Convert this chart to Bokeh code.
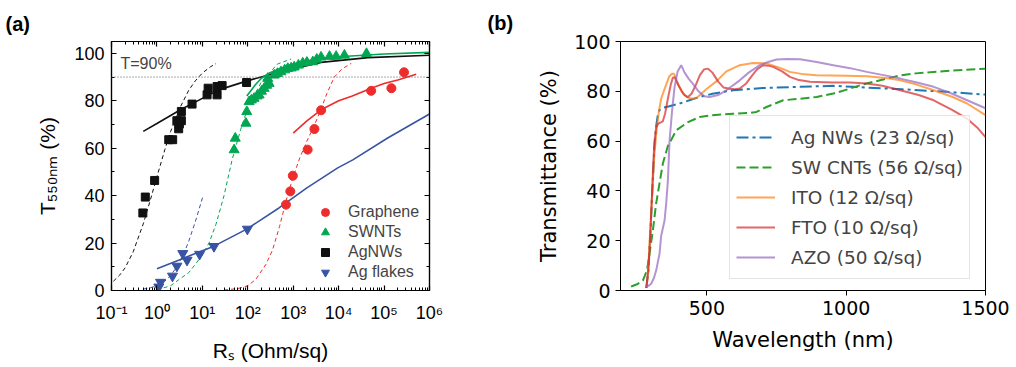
from bokeh.plotting import figure
from bokeh.models import (Range1d, LinearAxis, LogAxis, FixedTicker, Label,
                          Legend, LegendItem, CustomJSTickFormatter, Span, Title)
from bokeh.layouts import row
from bokeh.embed import file_html
from bokeh.resources import INLINE

# ---------------- Panel (a) data ----------------
a_exps = [-1, 0, 1, 2, 3, 4, 5, 6]
a_xlabels = ["10⁻¹", "10⁰", "10¹", "10²", "10³", "10⁴", "10⁵", "10⁶"]
a_yticks = [0, 20, 40, 60, 80, 100]
a_yminor = [10, 30, 50, 70, 90]
threshold = 90

graphene_x = [692, 863, 980, 2080, 2930, 4110, 52000, 145000, 275000]
graphene_y = [36.2, 41.8, 48.4, 59.4, 68.1, 76.0, 84.2, 85.3, 92.0]

swnt_x = [50, 53, 91, 95, 107, 120, 138, 160, 178, 200, 229, 260, 295, 275, 383, 450, 537,
          650, 760, 900, 1050, 1300, 1620, 2000, 2700, 3300, 4100, 6300, 8800, 13400, 41000]
swnt_y = [59.3, 64.2, 70.5, 75.4, 79.6, 80.3, 81.0, 82.0, 82.4, 84.0, 85.2, 86.5, 87.3, 89.4, 90.8,
          91.5, 92.2, 93.0, 93.6, 93.8, 94.2, 95.0, 95.9, 96.2, 96.4, 97.5, 98.4, 98.7, 98.7, 99.2, 99.9]

agnw_x = [0.49, 0.555, 0.89, 1.82, 2.22, 3.01, 3.12, 2.75, 3.45, 3.45, 5.93, 12.7, 13.4, 21.1, 21.1, 27.2, 94]
agnw_y = [32.7, 39.4, 46.4, 63.6, 63.6, 68.2, 70.2, 71.6, 71.6, 75.5, 78.6, 82.5, 85.3, 82.5, 86.0, 86.4, 87.7]

agfl_x = [1.1, 1.2, 2.2, 2.75, 3.7, 4.6, 8.7, 18, 98]
agfl_y = [1.5, 3.5, 6.1, 10.3, 15.6, 12.8, 15.3, 18.6, 25.9]

# fitted curves
agnw_fit_x = [0.5, 1, 3.3, 10, 23, 97, 324, 1000, 4100, 44000, 1e6]
agnw_fit_y = [67.1, 70.4, 76.2, 81.0, 84.6, 88.4, 91.2, 93.5, 96.2, 98.2, 99.2]
agnw_bulk_x = [0.11, 0.15, 0.2, 0.3, 0.5, 0.7, 1, 1.5, 2, 3, 5, 7, 10, 15, 20]
agnw_bulk_y = [3.9, 6.4, 9.6, 16.3, 28.1, 37.5, 48.0, 59.5, 67.0, 75.9, 84.4, 88.4, 91.7, 94.3, 95.7]

swnt_fit_x = [95, 150, 200, 300, 500, 1000, 3000, 10000, 1e5, 1e6]
swnt_fit_y = [82.0, 87.0, 89.5, 91.7, 93.5, 95.5, 97.5, 98.6, 99.7, 100.4]
swnt_bulk_x = [1.0, 2, 3, 5, 7, 10, 14, 20, 30, 45, 70, 100, 200, 450, 900]
swnt_bulk_y = [0.3, 2.0, 4.5, 7.5, 11.0, 15.0, 20.0, 28.0, 40.0, 55.0, 68.0, 77.0, 88.0, 95.5, 97.6]

gr_fit_x = [1000, 2000, 4100, 10000, 20000, 52000, 1e5, 2e5, 5.1e5]
gr_fit_y = [66.4, 71.5, 76.2, 80.0, 82.0, 85.3, 87.3, 88.8, 91.2]
gr_bulk_x = [30, 60, 100, 150, 250, 350, 500, 700, 1000, 1400, 2000, 2900, 4000, 5500, 8000, 12000, 19000]
gr_bulk_y = [0.2, 0.8, 2.0, 4.7, 11.0, 17.0, 27.0, 38.0, 48.0, 56.0, 63.0, 69.5, 76.0, 83.0, 90.0, 93.5, 95.8]

agfl_fit_x = [1, 3, 10, 18, 97, 486, 2000, 9550, 20500, 1.2e5, 1e6]
agfl_fit_y = [9.2, 12.8, 16.8, 18.7, 26.0, 34.8, 43.3, 51.7, 55.1, 64.3, 74.4]
agfl_bulk_x = [0.5, 0.7, 1, 1.5, 2, 3, 4, 5, 7, 10.4]
agfl_bulk_y = [0.6, 1.1, 2.0, 4.0, 6.3, 11.1, 16.0, 20.7, 29.0, 40.0]

# ---------------- Panel (b) data ----------------
b_xticks = [500, 1000, 1500]
b_yticks = [0, 20, 40, 60, 80, 100]

agnws_wl = [283, 290, 298, 305, 312, 318, 324, 330, 345, 365, 400, 440, 474, 520, 594, 700, 834, 954, 1074, 1200, 1314, 1420, 1500]
agnws_t = [1, 8, 25, 42, 58, 66, 70.5, 72.5, 73.5, 74, 75, 76.5, 77.7, 79, 80.4, 81.3, 81.8, 82.2, 81.5, 80.8, 80.1, 79.3, 78.7]

swcnt_wl = [228, 250, 270, 285, 294, 306, 318, 330, 342, 360, 390, 430, 474, 530, 594, 650, 678, 714, 774, 834,
            894, 954, 1014, 1060, 1098, 1150, 1194, 1250, 1314, 1400, 1500]
swcnt_t = [1.6, 2.5, 4, 8, 14.7, 24, 35, 43, 51, 58, 64.3, 67.5, 69.7, 70.5, 71, 71.3, 71.7, 73.7, 76.4, 77,
           77.7, 79.1, 81.1, 82.8, 83.8, 85.2, 86.4, 87.2, 87.8, 88.5, 89.1]

ito_wl = [284, 290, 297, 305, 312, 320, 328, 336, 345, 355, 365, 375, 382, 390, 400, 415, 430, 450, 465, 480, 500,
          534, 570, 618, 666, 714, 760, 798, 850, 894, 1000, 1074, 1150, 1194, 1250, 1314, 1380, 1434, 1500]
ito_t = [1, 10, 25, 42, 55, 65, 72, 77, 80, 83, 86, 87, 87, 85, 82, 79, 77.5, 77, 77.5, 79, 81,
         84, 88, 90.5, 91.4, 91.2, 89.5, 87.8, 86.8, 86.4, 86.2, 86, 85.2, 84.4, 82.8, 80.4, 77.8, 75.1, 70.4]

fto_wl = [282, 290, 297, 303, 308, 312, 318, 325, 335, 342, 350, 360, 370, 378, 385, 395, 410, 420, 432, 445, 460,
          475, 490, 504, 520, 540, 560, 582, 600, 618, 640, 660, 680, 702, 720, 738, 770, 798, 830, 870, 950, 1014,
          1074, 1130, 1194, 1260, 1314, 1380, 1434, 1470, 1500]
fto_t = [1, 8, 22, 38, 52, 60, 65.5, 67, 67.5, 68, 71, 77, 82.5, 85.5, 85.5, 83, 80, 78.5, 77.7, 79, 82.5,
         86.5, 88.8, 89.1, 87.5, 84, 81.5, 81, 80.8, 81.1, 83, 86, 88.8, 90.5, 90.3, 89.8, 88, 85.8, 84.5, 83.8, 83.5, 83.5,
         83.1, 82.2, 80.4, 78.5, 76.4, 72.5, 69, 65.5, 61.6]

azo_wl = [282, 292, 300, 310, 318, 325, 330, 336, 342, 348, 354, 360, 366, 375, 384, 395, 408, 420, 435, 450, 470,
          490, 510, 540, 570, 595, 618, 650, 690, 720, 750, 790, 834, 894, 954, 1014, 1074, 1134, 1194, 1254, 1314,
          1374, 1434, 1494, 1500]
azo_t = [1.5, 2, 2.7, 5, 8, 12, 14.7, 22, 25, 28, 35, 44, 60, 72, 81.7, 88, 90.5, 87.5, 85, 83, 80,
         78, 77.7, 78.5, 80.4, 82.5, 84.4, 87.5, 90.5, 91.8, 92.8, 93, 92.9, 91.8, 90.5, 89.3, 87.8, 86.5, 85.1, 83.5, 81.8,
         79.3, 76.4, 73.5, 73.2]

b_names = ["Ag NWs (23 Ω/sq)", "SW CNTs (56 Ω/sq)", "ITO (12 Ω/sq)", "FTO (10 Ω/sq)", "AZO (50 Ω/sq)"]

# ---------------- styles ----------------
RED, GREEN, BLACK, BLUE = "#ee2c2c", "#00a651", "#111111", "#3953a4"
AF = "Liberation Sans"
BF = "DejaVu Sans"
empty = CustomJSTickFormatter(code="return ''")

# ================= Panel (a) =================
pa = figure(width=480, height=367, x_axis_type="log", x_range=Range1d(0.1, 1e6), y_range=Range1d(0, 105),
            output_backend="svg", toolbar_location=None,
            min_border_left=111, min_border_right=51, min_border_top=41, min_border_bottom=76)
pa.grid.visible = False
pa.outline_line_color = "black"
pa.outline_line_width = 1.2

x_major = [10.0 ** e for e in a_exps]
x_minor = [m * 10.0 ** e for e in a_exps[:-1] for m in range(2, 10)]


def style_axis(ax):
    ax.major_tick_in = 5
    ax.major_tick_out = 0
    ax.minor_tick_in = 3
    ax.minor_tick_out = 0
    ax.axis_line_width = 1.2
    ax.major_tick_line_width = 1.2
    ax.axis_line_color = "black"
    ax.major_label_text_font = AF
    ax.major_label_text_color = "black"
    ax.axis_label_text_font = AF
    ax.axis_label_text_font_style = "normal"
    ax.axis_label_text_color = "black"


xa = pa.xaxis[0]
xa.ticker = FixedTicker(ticks=x_major, minor_ticks=x_minor)
xa.major_label_overrides = {t: s for t, s in zip(x_major, a_xlabels)}
style_axis(xa)
xa.major_label_text_font_size = "18px"
xa.major_label_standoff = 12
xa.axis_label = "Rₛ (Ohm/sq)"
xa.axis_label_text_font_size = "21px"
xa.axis_label_standoff = 13

ya = pa.yaxis[0]
ya.ticker = FixedTicker(ticks=a_yticks, minor_ticks=a_yminor)
style_axis(ya)
ya.major_label_text_font_size = "18px"
ya.major_label_standoff = 7
ya.axis_label = "T₅₅₀ₙₘ (%)"
ya.axis_label_text_font_size = "21px"
ya.axis_label_standoff = 12

top_ax = LogAxis(ticker=FixedTicker(ticks=x_major, minor_ticks=x_minor), formatter=empty)
style_axis(top_ax)
top_ax.major_label_text_font_size = "1px"
top_ax.major_label_standoff = 0
pa.add_layout(top_ax, "above")
right_ax = LinearAxis(ticker=FixedTicker(ticks=a_yticks, minor_ticks=a_yminor), formatter=empty)
style_axis(right_ax)
right_ax.major_label_text_font_size = "1px"
right_ax.major_label_standoff = 0
pa.add_layout(right_ax, "right")

pa.title = Title(text="(a)", align="left", offset=-106, standoff=14, text_line_height=0.75, text_font=AF,
                 text_font_size="20px", text_font_style="bold", text_color="black")

pa.add_layout(Span(location=threshold, dimension="width", line_color="#555555", line_width=1, line_dash="1 2"))

# dashed "bulk" curves
pa.line(agnw_bulk_x, agnw_bulk_y, line_color=BLACK, line_width=1, line_dash="4 3")
pa.line(swnt_bulk_x, swnt_bulk_y, line_color=GREEN, line_width=1, line_dash="4 3")
pa.line(gr_bulk_x, gr_bulk_y, line_color=RED, line_width=1, line_dash="4 3")
pa.line(agfl_bulk_x, agfl_bulk_y, line_color=BLUE, line_width=1, line_dash="4 3")
# solid fits
pa.line(agnw_fit_x, agnw_fit_y, line_color=BLACK, line_width=1.6)
pa.line(swnt_fit_x, swnt_fit_y, line_color=GREEN, line_width=1.6)
pa.line(gr_fit_x, gr_fit_y, line_color=RED, line_width=1.6)
pa.line(agfl_fit_x, agfl_fit_y, line_color=BLUE, line_width=1.6)

r_gr = pa.scatter(graphene_x, graphene_y, marker="circle", size=9, color=RED)
r_sw = pa.scatter(swnt_x, swnt_y, marker="triangle", size=10, color=GREEN)
r_nw = pa.scatter(agnw_x, agnw_y, marker="square", size=8, color=BLACK)
r_fl = pa.scatter(agfl_x, agfl_y, marker="inverted_triangle", size=10, color=BLUE)

leg_a = Legend(items=[LegendItem(label="Graphene", renderers=[r_gr]),
                      LegendItem(label="SWNTs", renderers=[r_sw]),
                      LegendItem(label="AgNWs", renderers=[r_nw]),
                      LegendItem(label="Ag flakes", renderers=[r_fl])],
               location=(204, 8), padding=0, margin=0, spacing=0, glyph_width=20, glyph_height=20,
               label_height=20, label_standoff=13, label_text_font=AF, label_text_font_size="16px",
               border_line_alpha=0, background_fill_alpha=0)
pa.add_layout(leg_a)

pa.add_layout(Label(x=0.1, y=threshold, x_offset=9, y_offset=5, text="T=90%", text_font=AF, text_font_size="16px"))

# ================= Panel (b) =================
pb = figure(width=536, height=367, x_range=Range1d(190, 1500), y_range=Range1d(0, 100),
            output_backend="svg", toolbar_location=None,
            min_border_left=140, min_border_right=31, min_border_top=41, min_border_bottom=77)
pb.grid.visible = False
pb.outline_line_color = "black"
pb.outline_line_width = 1
pb.xaxis.ticker = FixedTicker(ticks=b_xticks)
pb.yaxis.ticker = FixedTicker(ticks=b_yticks)
for ax in (pb.xaxis[0], pb.yaxis[0]):
    ax.major_tick_in = 0
    ax.major_tick_out = 5
    ax.minor_tick_line_color = None
    ax.axis_line_color = "black"
    ax.major_label_text_font = BF
    ax.major_label_text_font_size = "19px"
    ax.major_label_text_color = "black"
    ax.major_label_standoff = 5
    ax.axis_label_text_font = BF
    ax.axis_label_text_font_size = "21px"
    ax.axis_label_text_font_style = "normal"
    ax.axis_label_text_color = "black"
pb.xaxis.axis_label = "Wavelength (nm)"
pb.yaxis.axis_label = "Transmittance (%)"
pb.xaxis.axis_label_standoff = 10
pb.yaxis.axis_label_standoff = 10

pb.title = Title(text="(b)", align="left", offset=-133, standoff=15, text_line_height=0.75, text_font=AF,
                 text_font_size="20px", text_font_style="bold", text_color="black")

rb1 = pb.line(agnws_wl, agnws_t, line_color="#1f77b4", line_width=2, line_dash="12 4 3 4")
rb2 = pb.line(swcnt_wl, swcnt_t, line_color="#2ca02c", line_width=2, line_dash="9 4")
rb3 = pb.line(ito_wl, ito_t, line_color="#ff7f0e", line_width=2, line_alpha=0.7)
rb4 = pb.line(fto_wl, fto_t, line_color="#d62728", line_width=2, line_alpha=0.7)
rb5 = pb.line(azo_wl, azo_t, line_color="#9467bd", line_width=2, line_alpha=0.7)

leg_b = Legend(items=[LegendItem(label=n, renderers=[r]) for n, r in zip(b_names, [rb1, rb2, rb3, rb4, rb5])],
               location=(109, 11), padding=6, margin=0, spacing=0, glyph_width=39, glyph_height=30,
               label_height=30, label_standoff=16, label_text_font=BF, label_text_font_size="18.5px",
               border_line_color="#cccccc", border_line_width=1, background_fill_alpha=0.8)
pb.add_layout(leg_b)

layout = row(pa, pb)
open("out.html", "w").write(file_html(layout, INLINE))
